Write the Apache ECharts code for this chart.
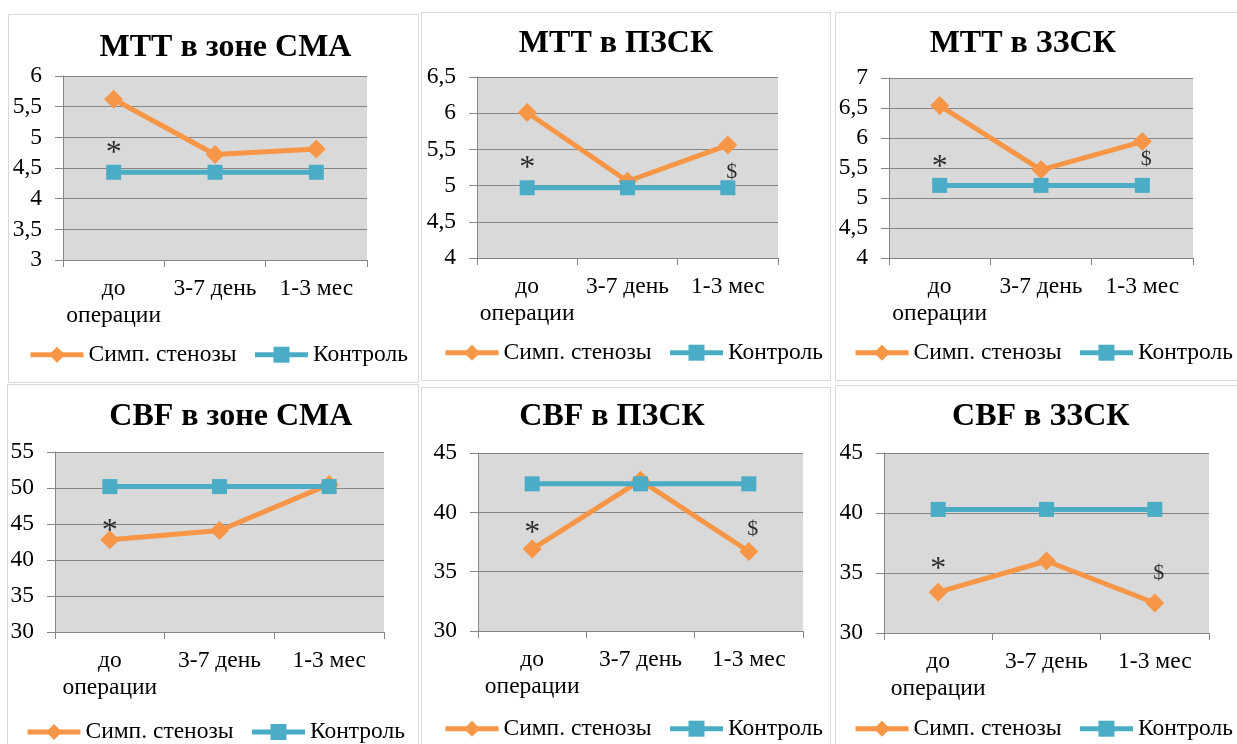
<!DOCTYPE html>
<html>
<head>
<meta charset="utf-8">
<script src="https://cdn.jsdelivr.net/npm/echarts@6/dist/echarts.min.js"></script>
<style>
  html, body { margin: 0; padding: 0; background: #ffffff; }
  #chart { width: 1237px; height: 744px; }
</style>
</head>
<body>
<div id="chart"></div>
<script>
// ---- data ----
const categories = ['до\nоперации', '3-7 день', '1-3 мес'];
const seriesNames = ['Симп. стенозы', 'Контроль'];

const mttSmaStenosis = [5.62, 4.72, 4.81];
const mttSmaControl = [4.43, 4.43, 4.43];
const mttPzskStenosis = [6.01, 5.06, 5.56];
const mttPzskControl = [4.97, 4.97, 4.97];
const mttZzskStenosis = [6.54, 5.47, 5.94];
const mttZzskControl = [5.21, 5.21, 5.21];
const cbfSmaStenosis = [42.8, 44.1, 50.5];
const cbfSmaControl = [50.2, 50.2, 50.2];
const cbfPzskStenosis = [36.9, 42.7, 36.7];
const cbfPzskControl = [42.4, 42.4, 42.4];
const cbfZzskStenosis = [33.4, 36.0, 32.5];
const cbfZzskControl = [40.3, 40.3, 40.3];

// significance marks: [category index, level on the value axis, sign]
const mttSmaNotes = [[0, 4.74, '*']];
const mttPzskNotes = [[0, 5.24, '*'], [2, 5.19, '$']];
const mttZzskNotes = [[0, 5.50, '*'], [2, 5.64, '$']];
const cbfSmaNotes = [[0, 43.9, '*']];
const cbfPzskNotes = [[0, 38.2, '*'], [2, 38.6, '$']];
const cbfZzskNotes = [[0, 35.25, '*'], [2, 35.0, '$']];

// value-axis ranges: [min, max, interval]
const mttSmaAxis = [3, 6, 0.5];
const mttPzskAxis = [4, 6.5, 0.5];
const mttZzskAxis = [4, 7, 0.5];
const cbfSmaAxis = [30, 55, 5];
const cbfPzskAxis = [30, 45, 5];
const cbfZzskAxis = [30, 45, 5];

const panels = [
  { title: 'МТТ в зоне СМА', stenosis: mttSmaStenosis, control: mttSmaControl, notes: mttSmaNotes, axis: mttSmaAxis },
  { title: 'МТТ в ПЗСК', stenosis: mttPzskStenosis, control: mttPzskControl, notes: mttPzskNotes, axis: mttPzskAxis },
  { title: 'МТТ в ЗЗСК', stenosis: mttZzskStenosis, control: mttZzskControl, notes: mttZzskNotes, axis: mttZzskAxis },
  { title: 'CBF в зоне СМА', stenosis: cbfSmaStenosis, control: cbfSmaControl, notes: cbfSmaNotes, axis: cbfSmaAxis },
  { title: 'CBF в ПЗСК', stenosis: cbfPzskStenosis, control: cbfPzskControl, notes: cbfPzskNotes, axis: cbfPzskAxis },
  { title: 'CBF в ЗЗСК', stenosis: cbfZzskStenosis, control: cbfZzskControl, notes: cbfZzskNotes, axis: cbfZzskAxis }
];

// ---- layout of the six panels (pixels) ----
const layouts = [
  { box: [8, 14, 418, 382],   grid: [63, 76, 304, 184],  title: [225.5, 47.5], legend: [28, 352.7] },
  { box: [421, 12, 830, 380], grid: [477, 77, 301, 181], title: [616, 43.7],   legend: [443, 350.7] },
  { box: [835, 12, 1245, 380], grid: [889, 78, 304, 180], title: [1022.8, 43.8], legend: [853, 350.7] },
  { box: [7, 384, 418, 750],  grid: [55, 452, 329, 180],  title: [230.8, 416.3], legend: [25, 730] },
  { box: [421, 387, 830, 750], grid: [478, 453, 325, 178], title: [612, 416.3], legend: [443, 726.7] },
  { box: [835, 385, 1245, 750], grid: [884, 453, 325, 180], title: [1040.8, 417], legend: [853, 726.7] }
];
const noteShift = { '*': 0, '$': 4 };

const ORANGE = '#F79646';
const BLUE = '#4BACC6';
const PLOT_BG = '#D9D9D9';
const RULE = '#868686';
const FONT = '"Liberation Serif", "Times New Roman", serif';

const grids = [], xAxes = [], yAxes = [], series = [], legends = [], graphics = [];

panels.forEach((p, i) => {
  const L = layouts[i];
  graphics.push({
    type: 'rect', silent: true, z: 0,
    shape: { x: L.box[0] + 0.5, y: L.box[1] + 0.5, width: L.box[2] - L.box[0], height: L.box[3] - L.box[1] },
    style: { fill: 'none', stroke: '#D9D9D9', lineWidth: 1 }
  });
  graphics.push({
    type: 'text', silent: true, z: 10,
    x: L.title[0], y: L.title[1],
    style: {
      text: p.title, fill: '#000',
      font: 'bold 32px ' + FONT,
      align: 'center', verticalAlign: 'middle',
      textAlign: 'center', textVerticalAlign: 'middle'
    }
  });
  grids.push({
    left: L.grid[0], top: L.grid[1], width: L.grid[2], height: L.grid[3],
    show: true, backgroundColor: PLOT_BG, borderWidth: 0
  });
  xAxes.push({
    type: 'category', gridIndex: i, data: categories, boundaryGap: true,
    axisLine: { show: true, lineStyle: { color: RULE, width: 1 } },
    axisTick: { show: true, length: 7, interval: 0, lineStyle: { color: RULE } },
    axisLabel: { interval: 0, color: '#000', fontFamily: FONT, fontSize: 23.5, lineHeight: 27, margin: 15 },
    splitLine: { show: false }
  });
  yAxes.push({
    type: 'value', gridIndex: i, min: p.axis[0], max: p.axis[1], interval: p.axis[2],
    axisLine: { show: true, lineStyle: { color: RULE, width: 1 } },
    axisTick: { show: true, length: 8, lineStyle: { color: RULE } },
    axisLabel: {
      color: '#000', fontFamily: FONT, fontSize: 23.5, margin: 21,
      formatter: v => String(v).replace('.', ',')
    },
    splitLine: { show: true, lineStyle: { color: RULE, width: 1 } }
  });
  series.push({
    type: 'line', name: seriesNames[0], xAxisIndex: i, yAxisIndex: i,
    data: p.stenosis, symbol: 'diamond', symbolSize: 19,
    lineStyle: { color: ORANGE, width: 5 }, itemStyle: { color: ORANGE },
    z: 3
  });
  series.push({
    type: 'line', name: seriesNames[1], xAxisIndex: i, yAxisIndex: i,
    data: p.control, symbol: 'rect', symbolSize: 15,
    lineStyle: { color: BLUE, width: 5 }, itemStyle: { color: BLUE },
    z: 4
  });
  series.push({
    type: 'scatter', name: 'marks' + i, xAxisIndex: i, yAxisIndex: i,
    silent: true, symbolSize: 1, itemStyle: { color: 'transparent' }, z: 5,
    data: p.notes.map(n => ({
      value: [n[0], n[1]],
      label: {
        show: true, position: 'inside', formatter: n[2],
        fontSize: n[2] === '*' ? 32 : 22, offset: [noteShift[n[2]], 0]
      }
    })),
    label: { show: true, color: '#000', fontFamily: FONT }
  });
  legends.push({
    data: seriesNames, left: L.legend[0], top: L.legend[1] - 10, width: 440,
    orient: 'horizontal', itemWidth: 53, itemHeight: 20, itemGap: 16,
    padding: 0, selectedMode: false,
    lineStyle: { width: 5 },
    textStyle: { color: '#000', fontFamily: FONT, fontSize: 23.5, lineHeight: 20 }
  });
});

const chart = echarts.init(document.getElementById('chart'));
chart.setOption({
  animation: false,
  backgroundColor: '#ffffff',
  grid: grids,
  xAxis: xAxes,
  yAxis: yAxes,
  legend: legends,
  series: series,
  graphic: graphics
});
</script>
</body>
</html>
